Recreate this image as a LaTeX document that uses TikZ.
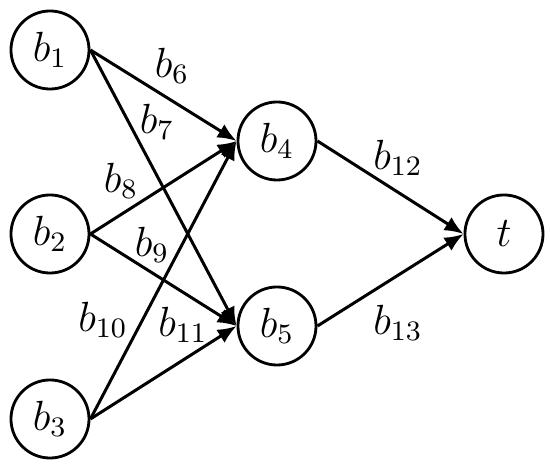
\documentclass[tikz,border=0pt]{standalone}
\usepackage{amsmath,amssymb}
\usetikzlibrary{arrows.meta,positioning}

\begin{document}
\begin{tikzpicture}[x=0.01cm, y=-0.01cm, font=\large,
    vertex/.style={circle, draw, line width=0.8pt, minimum size=0.78cm,
                   inner sep=0pt},
    flow/.style={-{Latex[length=5.4pt, width=4.4pt]}, line width=0.85pt}]
    \useasboundingbox (0,0) rectangle (550,464);

    % Sources
    \foreach \i/\y in {1/50, 2/234, 3/419} {
        \node[vertex] (b\i) at (50, \y) {$b_{\i}$};
    }

    % Middle and sink
    \node[vertex] (b4) at (277, 141) {$b_{4}$};
    \node[vertex] (b5) at (277, 326) {$b_{5}$};
    \node[vertex] (t) at (504, 234) {$t$};

    % Arcs
    \draw[flow] (b1.east) -- (b4.west);
    \draw[flow] (b1.east) -- (b5.west);
    \draw[flow] (b2.east) -- (b4.west);
    \draw[flow] (b2.east) -- (b5.west);
    \draw[flow] (b3.east) -- (b4.west);
    \draw[flow] (b3.east) -- (b5.west);
    \draw[flow] (b4.east) -- (t.west);
    \draw[flow] (b5.east) -- (t.west);

    % Labels
    \node (l6) at (172, 66) {$b_{6}$};
    \node (l7) at (157, 122) {$b_{7}$};
    \node (l8) at (121, 181) {$b_{8}$};
    \node (l9) at (152, 245) {$b_{9}$};
    \node (l10) at (103, 320) {$b_{10}$};
    \node (l11) at (183, 325) {$b_{11}$};
    \node (l12) at (398, 158) {$b_{12}$};
    \node (l13) at (398, 323) {$b_{13}$};
\end{tikzpicture}
\end{document}
